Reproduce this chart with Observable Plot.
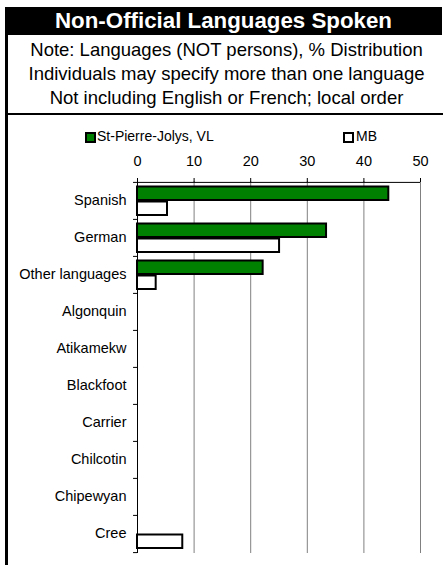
<!DOCTYPE html>
<html>
<head>
<meta charset="utf-8">
<script src="https://cdn.jsdelivr.net/npm/d3@7"></script>
<script src="https://cdn.jsdelivr.net/npm/@observablehq/plot@0.6"></script>
<style>
  html, body { margin: 0; padding: 0; background: #fff; }
  #wrap { position: relative; width: 443px; height: 565px; overflow: hidden; font-family: "Liberation Sans", Arial, sans-serif; }
  #frame { position: absolute; left: 5px; top: 7px; width: 500px; height: 600px; border-left: 3px solid #000; }
  #title { position: absolute; left: 5px; top: 7px; width: 437px; height: 28px; background: #000; color: #fff; font-weight: bold; font-size: 22.3px; line-height: 28px; text-align: center; }
  #note { position: absolute; left: 8px; top: 38px; width: 437px; font-size: 18.5px; line-height: 24px; text-align: center; color: #000; }
  #noteLine { position: absolute; left: 5px; top: 113px; width: 500px; height: 2px; background: #000; }
  #chart { position: absolute; left: 0; top: 118px; }
  .lg { position: absolute; font-size: 14px; line-height: 16px; color: #000; white-space: nowrap; }
  .sw { position: absolute; width: 7px; height: 7px; border: 2px solid #000; }
</style>
</head>
<body>
<div id="wrap">
  <div id="frame"></div>
  <div id="title"></div>
  <div id="note"></div>
  <div id="noteLine"></div>
  <div id="legend"></div>
  <div id="chart"></div>
</div>
<script>
const titleText = "Non-Official Languages Spoken";
const noteLines = [
  "Note: Languages (NOT persons), % Distribution",
  "Individuals may specify more than one language",
  "Not including English or French; local order"
];
const categories = ["Spanish", "German", "Other languages", "Algonquin", "Atikamekw", "Blackfoot", "Carrier", "Chilcotin", "Chipewyan", "Cree"];
const seriesNames = ["St-Pierre-Jolys, VL", "MB"];
const seriesColors = ["#008000", "#ffffff"];
const valuesVL = [44.4, 33.4, 22.2, 0, 0, 0, 0, 0, 0, 0];
const valuesMB = [5.3, 25.1, 3.3, 0, 0, 0, 0, 0, 0, 8.0];
const xTicks = [0, 10, 20, 30, 40, 50];

document.getElementById("title").textContent = titleText;
const note = document.getElementById("note");
noteLines.forEach(t => { const d = document.createElement("div"); d.textContent = t; note.appendChild(d); });

// legend
const legend = document.getElementById("legend");
const lgPos = [{sx: 85, tx: 97}, {sx: 343, tx: 356}];
seriesNames.forEach((name, i) => {
  const sw = document.createElement("div");
  sw.className = "sw";
  sw.style.left = lgPos[i].sx + "px";
  sw.style.top = "132px";
  sw.style.background = seriesColors[i];
  legend.appendChild(sw);
  const t = document.createElement("div");
  t.className = "lg";
  t.style.left = lgPos[i].tx + "px";
  t.style.top = "128px";
  t.textContent = name;
  legend.appendChild(t);
});

const dataVL = categories.map((c, i) => ({lang: c, value: valuesVL[i]})).filter(d => d.value > 0);
const dataMB = categories.map((c, i) => ({lang: c, value: valuesMB[i]})).filter(d => d.value > 0);

const W = 443, H = 447, mTop = 63, mBottom = 12, mLeft = 137, mRight = 23;
const bw = (H - mTop - mBottom) / categories.length;

const chart = Plot.plot({
  width: W,
  height: H,
  marginTop: mTop,
  marginBottom: mBottom,
  marginLeft: mLeft,
  marginRight: mRight,
  style: {fontFamily: "Liberation Sans, Arial, sans-serif", fontSize: "14px", color: "#000", background: "transparent"},
  x: {domain: [0, 50], ticks: xTicks, axis: null},
  y: {domain: categories, padding: 0, axis: null},
  marks: [
    Plot.ruleX(xTicks.filter(d => d > 0), {stroke: "#808080", strokeWidth: 1}),
    Plot.axisX({anchor: "top", ticks: xTicks, tickSize: 4, tickPadding: 12, fontSize: 14.5, label: null, stroke: "#000", strokeOpacity: 1}),
    Plot.ruleY([categories[0]], {x1: -0.7, x2: 50, dy: -bw / 2, stroke: "#000"}),
    Plot.ruleY(categories.slice(1), {x1: -0.7, x2: 0, dy: -bw / 2, stroke: "#000"}),
    Plot.ruleY([categories[categories.length - 1]], {x1: -0.7, x2: 0, dy: bw / 2, stroke: "#000"}),
    Plot.axisY({anchor: "left", tickSize: 0, tickPadding: 11, fontSize: 14.5, label: null, dy: -1}),
    Plot.barX(dataVL, {y: "lang", x: "value", fill: seriesColors[0], stroke: "#000", strokeWidth: 2, insetTop: 4.5, insetBottom: 19}),
    Plot.barX(dataMB, {y: "lang", x: "value", fill: seriesColors[1], stroke: "#000", strokeWidth: 2, insetTop: 19.5, insetBottom: 4}),
    Plot.ruleX([0], {stroke: "#000", strokeWidth: 1})
  ]
});
document.getElementById("chart").appendChild(chart);
</script>
</body>
</html>
